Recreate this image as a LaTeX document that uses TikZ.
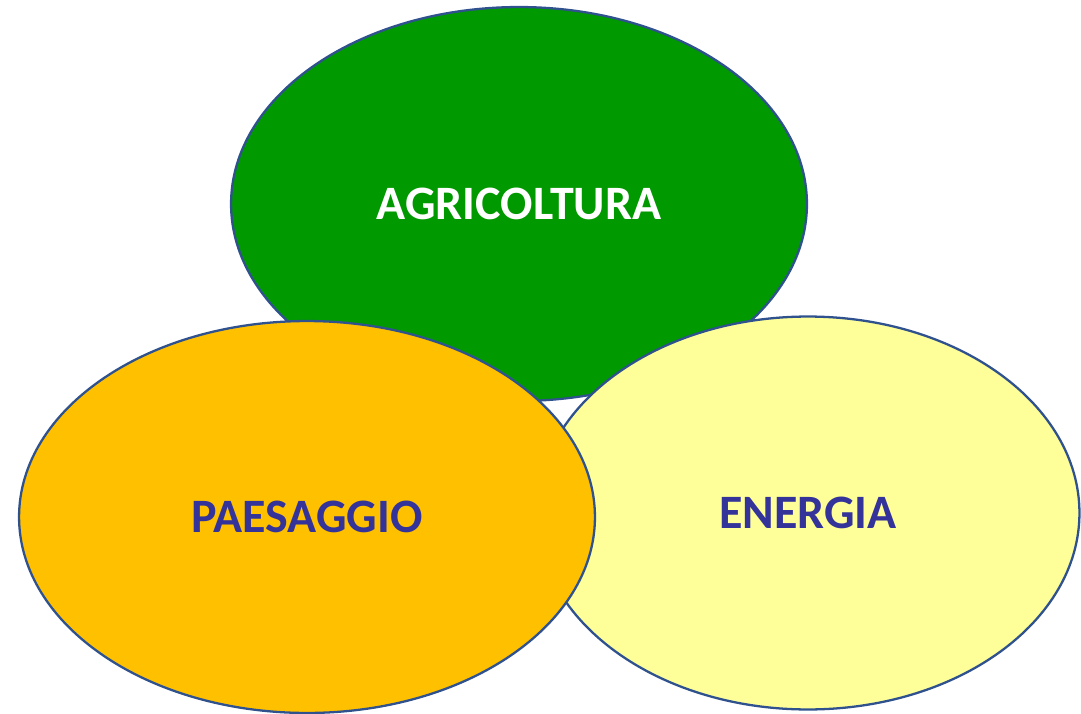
\documentclass[tikz,border=0pt]{standalone}
\usepackage{fontspec}
\setmainfont{Carlito}
\usepackage{tikz}
\usetikzlibrary{shapes.geometric}
\usetikzlibrary{positioning}

\definecolor{verde}{HTML}{009900}
\definecolor{arancio}{HTML}{FFC000}
\definecolor{giallo}{HTML}{FFFF99}
\definecolor{bordo}{HTML}{2F528F}
\definecolor{testo}{HTML}{333399}

\begin{document}
\begin{tikzpicture}[x=0.02cm,y=-0.02cm, main node/.style={ellipse,draw=bordo,line width=1.3pt,inner sep=0pt,font=\fontsize{27.3}{32}\selectfont\bfseries}]

            \useasboundingbox (0,0) rectangle (1081,713);

            \node[main node,fill=verde,text=white,minimum width=11.52cm,minimum height=7.88cm] (agri) at (519,204) {AGRICOLTURA};
            \node[main node,fill=giallo,text=testo,minimum width=10.86cm,minimum height=7.86cm] (ener) at (808,513) {ENERGIA};
            \node[main node,fill=arancio,text=testo,minimum width=11.52cm,minimum height=7.84cm] (paes) at (307,517) {PAESAGGIO};

        \end{tikzpicture}
\end{document}
